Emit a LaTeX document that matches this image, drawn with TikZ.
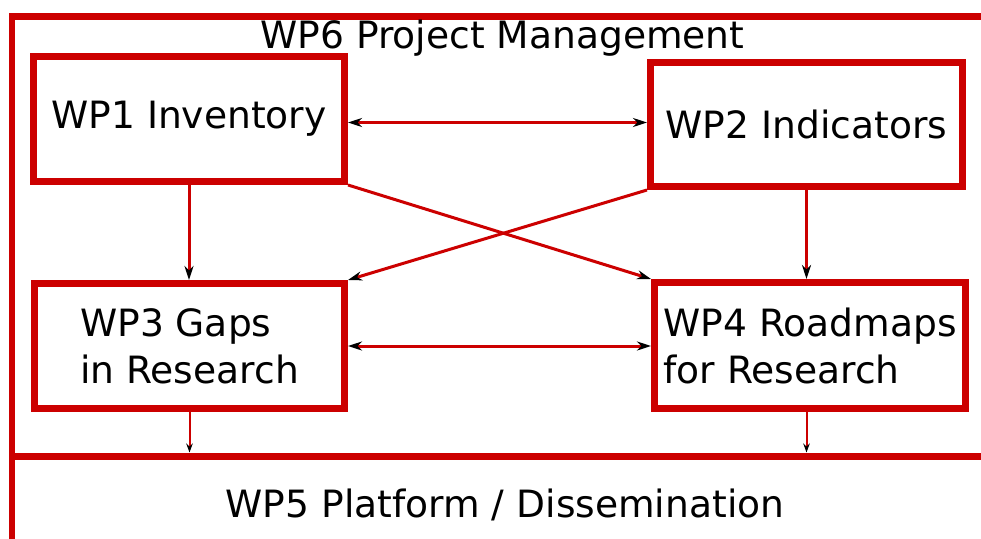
\documentclass[tikz,border=0pt]{standalone}
\usepackage{fontspec}
\setmainfont{DejaVu Sans}
\usetikzlibrary{arrows.meta}
\definecolor{wpred}{RGB}{204,0,0}
\tikzset{
  wpbox/.style={draw=wpred, line width=7pt, fill=white, align=left,
    font=\fontsize{37.6}{47}\selectfont, inner sep=0pt},
  wplabel/.style={font=\fontsize{37.6}{47}\selectfont, inner sep=0pt, anchor=base},
  link/.style={draw=wpred, line width=3pt,
    -{Stealth[length=14pt,width=9pt,inset=4.5pt,black]}},
  twoway/.style={link, {Stealth[length=14pt,width=9pt,inset=4.5pt,black]}-{Stealth[length=14pt,width=9pt,inset=4.5pt,black]}},
  feed/.style={draw=wpred, line width=2pt,
    -{Stealth[length=9pt,width=6.5pt,inset=3pt,black]}, shorten >=3.5pt},
  frame/.style={draw=wpred, line width=6.5pt, miter limit=10}
}
\begin{document}
\begin{tikzpicture}[x=1pt,y=-1pt]
  \useasboundingbox[fill=white] (0,0) rectangle (981,538);
  \clip (0,0) rectangle (981,538);

  % WP6 frame and WP5 divider
  \coordinate (ftr) at (985,16.5);
  \coordinate (ftl) at (12,16.5);
  \coordinate (fbl) at (12,545);
  \coordinate (divl) at (12,456);
  \coordinate (divr) at (985,456);
  \draw[frame] (ftr) -- (ftl) -- (fbl);
  \draw[frame, line width=7pt] (divl) -- (divr);

  \node[wplabel] (wp6) at (502.5,48) {WP6 Project Management};
  \node[wplabel] (wp5) at (505,517) {WP5 Platform / Dissemination};

  % work packages
  \node[wpbox, minimum width=311pt, minimum height=125pt] (wp1) at (189,119) {WP1 Inventory};
  \node[wpbox, minimum width=312pt, minimum height=124pt] (wp2) at (806.5,124.5) {WP2 Indicators};
  \node[wpbox, minimum width=310pt, minimum height=125pt] (wp3) at (189.5,346) {WP3 Gaps\\in Research};
  \node[wpbox, minimum width=311pt, minimum height=126pt] (wp4) at (810,345.5) {WP4 Roadmaps\\for Research};

  % links between work packages
  \coordinate (row1) at (500,122.5);
  \draw[twoway] (wp1.east |- row1) -- (wp2.west |- row1);
  \draw[twoway] (wp3.east) -- (wp3.east -| wp4.west);
  \draw[link] (wp1.south) -- (wp1.south |- wp3.north);
  \draw[link] (wp2.south) -- (wp2.south |- wp4.north);
  \draw[link] (wp1.south east) -- (wp4.north west);
  \draw[link] (wp2.south west) -- (wp3.north east);

  % feeds into dissemination
  \draw[feed] (wp3.south) -- (wp3.south |- divl);
  \draw[feed] (wp4.south -| wp2.south) -- (wp2.south |- divl);
\end{tikzpicture}
\end{document}
